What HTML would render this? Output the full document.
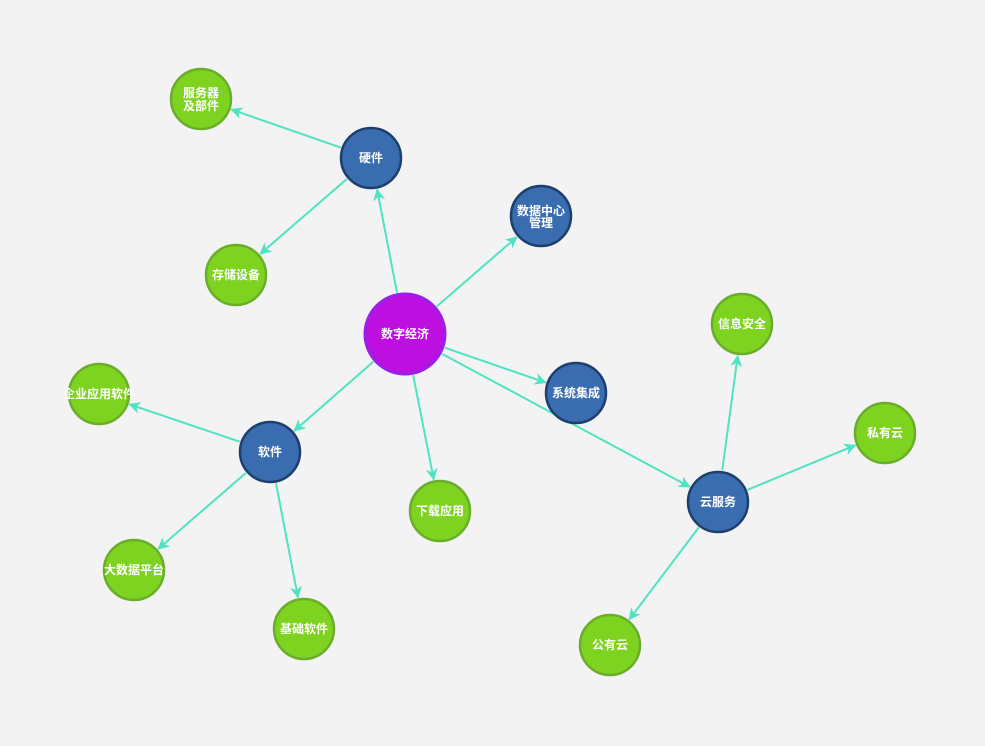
<!DOCTYPE html>
<html><head><meta charset="utf-8">
<style>
html,body{margin:0;padding:0;background:#f3f3f3;}
svg{display:block}
text{font-family:"Liberation Sans","Noto Sans CJK SC",sans-serif;font-size:12px;font-weight:bold;fill:#fff;text-anchor:middle;dominant-baseline:central;}
</style></head><body>
<svg id="s" width="985" height="746" viewBox="0 0 985 746">
<defs>
<marker id="a" markerWidth="12" markerHeight="12" refX="11" refY="6" orient="auto" markerUnits="userSpaceOnUse">
<path d="M0,0 L12,6 L0,12 L3.5,6 Z" fill="#50e3c2"/>
</marker>
</defs>
<g id="edges"></g>
<g id="nodes">
<circle cx="405" cy="334" r="40" fill="#bd10e0" stroke="#9b1fe8" stroke-width="3"/>
<text x="405" y="334">数字经济</text>
<circle cx="371" cy="158" r="30" fill="#3a6db0" stroke="#1c3f6e" stroke-width="2.5"/>
<text x="371" y="158">硬件</text>
<circle cx="541" cy="216" r="30" fill="#3a6db0" stroke="#1c3f6e" stroke-width="2.5"/>
<text x="541" y="211">数据中心</text><text x="541" y="223">管理</text>
<circle cx="576" cy="393" r="30" fill="#3a6db0" stroke="#1c3f6e" stroke-width="2.5"/>
<text x="576" y="393">系统集成</text>
<circle cx="270" cy="452" r="30" fill="#3a6db0" stroke="#1c3f6e" stroke-width="2.5"/>
<text x="270" y="452">软件</text>
<circle cx="718" cy="502" r="30" fill="#3a6db0" stroke="#1c3f6e" stroke-width="2.5"/>
<text x="718" y="502">云服务</text>
<circle cx="201" cy="99" r="30" fill="#7ed321" stroke="#6aad2a" stroke-width="2.5"/>
<text x="201" y="93">服务器</text><text x="201" y="106">及部件</text>
<circle cx="236" cy="275" r="30" fill="#7ed321" stroke="#6aad2a" stroke-width="2.5"/>
<text x="236" y="275">存储设备</text>
<circle cx="742" cy="324" r="30" fill="#7ed321" stroke="#6aad2a" stroke-width="2.5"/>
<text x="742" y="324">信息安全</text>
<circle cx="885" cy="433" r="30" fill="#7ed321" stroke="#6aad2a" stroke-width="2.5"/>
<text x="885" y="433">私有云</text>
<circle cx="99" cy="394" r="30" fill="#7ed321" stroke="#6aad2a" stroke-width="2.5"/>
<text x="99" y="394">企业应用软件</text>
<circle cx="134" cy="570" r="30" fill="#7ed321" stroke="#6aad2a" stroke-width="2.5"/>
<text x="134" y="570">大数据平台</text>
<circle cx="304" cy="629" r="30" fill="#7ed321" stroke="#6aad2a" stroke-width="2.5"/>
<text x="304" y="629">基础软件</text>
<circle cx="440" cy="511" r="30" fill="#7ed321" stroke="#6aad2a" stroke-width="2.5"/>
<text x="440" y="511">下载应用</text>
<circle cx="610" cy="645" r="30" fill="#7ed321" stroke="#6aad2a" stroke-width="2.5"/>
<text x="610" y="645">公有云</text>
</g>
</svg>
<script>
var N={c:[405,334,42],hw:[371,158,32],dc:[541,216,32],si:[576,393,32],sw:[270,452,32],cl:[718,502,32],
sv:[201,99,32],st:[236,275,32],is:[742,324,32],pc:[885,433,32],ea:[99,394,32],bd:[134,570,32],bs:[304,629,32],dl:[440,511,32],pu:[610,645,32]};
var E=[["c","hw"],["c","dc"],["c","si"],["c","sw"],["c","cl"],["c","dl"],["hw","sv"],["hw","st"],["sw","ea"],["sw","bd"],["sw","bs"],["cl","is"],["cl","pc"],["cl","pu"]];
var g=document.getElementById("edges"),h="";
E.forEach(function(e){var a=N[e[0]],b=N[e[1]],dx=b[0]-a[0],dy=b[1]-a[1],L=Math.sqrt(dx*dx+dy*dy),ux=dx/L,uy=dy/L;
h+='<line x1="'+(a[0]+ux*a[2])+'" y1="'+(a[1]+uy*a[2])+'" x2="'+(b[0]-ux*b[2])+'" y2="'+(b[1]-uy*b[2])+'" stroke="#50e3c2" stroke-width="2" marker-end="url(#a)"/>';});
g.innerHTML=h;
</script>
</body></html>
